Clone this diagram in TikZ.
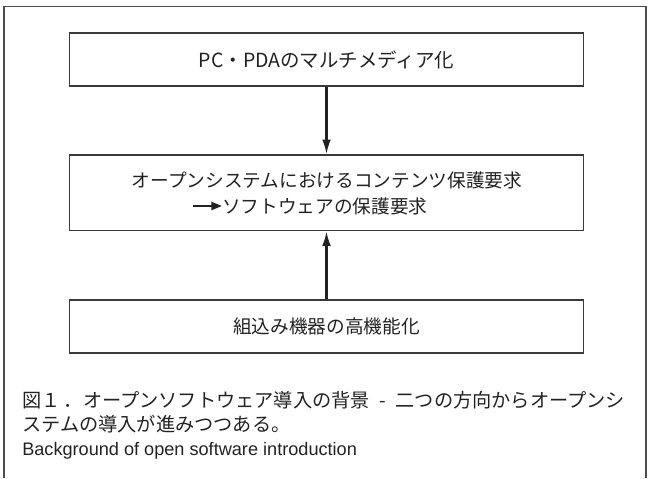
\documentclass[tikz,border=0pt]{standalone}
\usepackage{fontspec}
\setmainfont{Liberation Sans}
\newfontfamily\jp{Noto Sans CJK JP}
\usetikzlibrary{arrows.meta}
\definecolor{ink}{HTML}{222222}
\definecolor{edge}{HTML}{3A3A3A}
\begin{document}
\begin{tikzpicture}[x=0.75pt,y=-0.75pt,
  box/.style={draw=edge, line width=1.1pt, minimum width=385.5pt, inner sep=0pt, text=ink, font=\jp\fontsize{14pt}{17pt}\selectfont},
  lbl/.style={inner sep=0pt, text=ink, font=\jp\fontsize{14pt}{17pt}\selectfont},
  captext/.style={inner sep=0pt, anchor=west, text=ink, font=\jp\fontsize{14.4pt}{16pt}\selectfont},
  flow/.style={draw=ink, line width=1.6pt, -{Latex[length=11pt,width=6.5pt]}}]
\useasboundingbox (0,0) rectangle (648,478);
\draw[draw=black!70, line width=1.1pt] (4,478) -- (4,6.7) -- (646,6.7) -- (646,478);
\node[box, minimum height=39.75pt, font=\jp\fontsize{14.6pt}{17pt}\selectfont] (top) at (326.5,59.5) {PC・PDAのマルチメディア化};
\node[box, minimum height=56.6pt] (mid) at (326.5,192.75) {};
\node[box, minimum height=39.75pt] (bot) at (326.5,326.5) {組込み機器の高機能化};
\node[lbl] (m1) at (327,180) {オープンシステムにおけるコンテンツ保護要求};
\node[lbl, anchor=west] (m2) at (222,206) {ソフトウェアの保護要求};
\coordinate (as) at (193,206);
\draw[draw=ink, line width=1.6pt, -{Triangle[length=8pt,width=6pt]}] (as) -- (m2.west);
\draw[flow] (top.south) -- (mid.north);
\draw[flow] (bot.north) -- (mid.south);
\node[captext] (c1) at (22,400) {図１\,．オープンソフトウェア導入の背景\enspace -\enspace 二つの方向からオープンシ};
\node[captext] (c2) at (22,424) {ステムの導入が進みつつある。};
\node[captext, font=\fontsize{13.6pt}{16pt}\selectfont] (c3) at (22,451) {Background of open software introduction};
\end{tikzpicture}
\end{document}
